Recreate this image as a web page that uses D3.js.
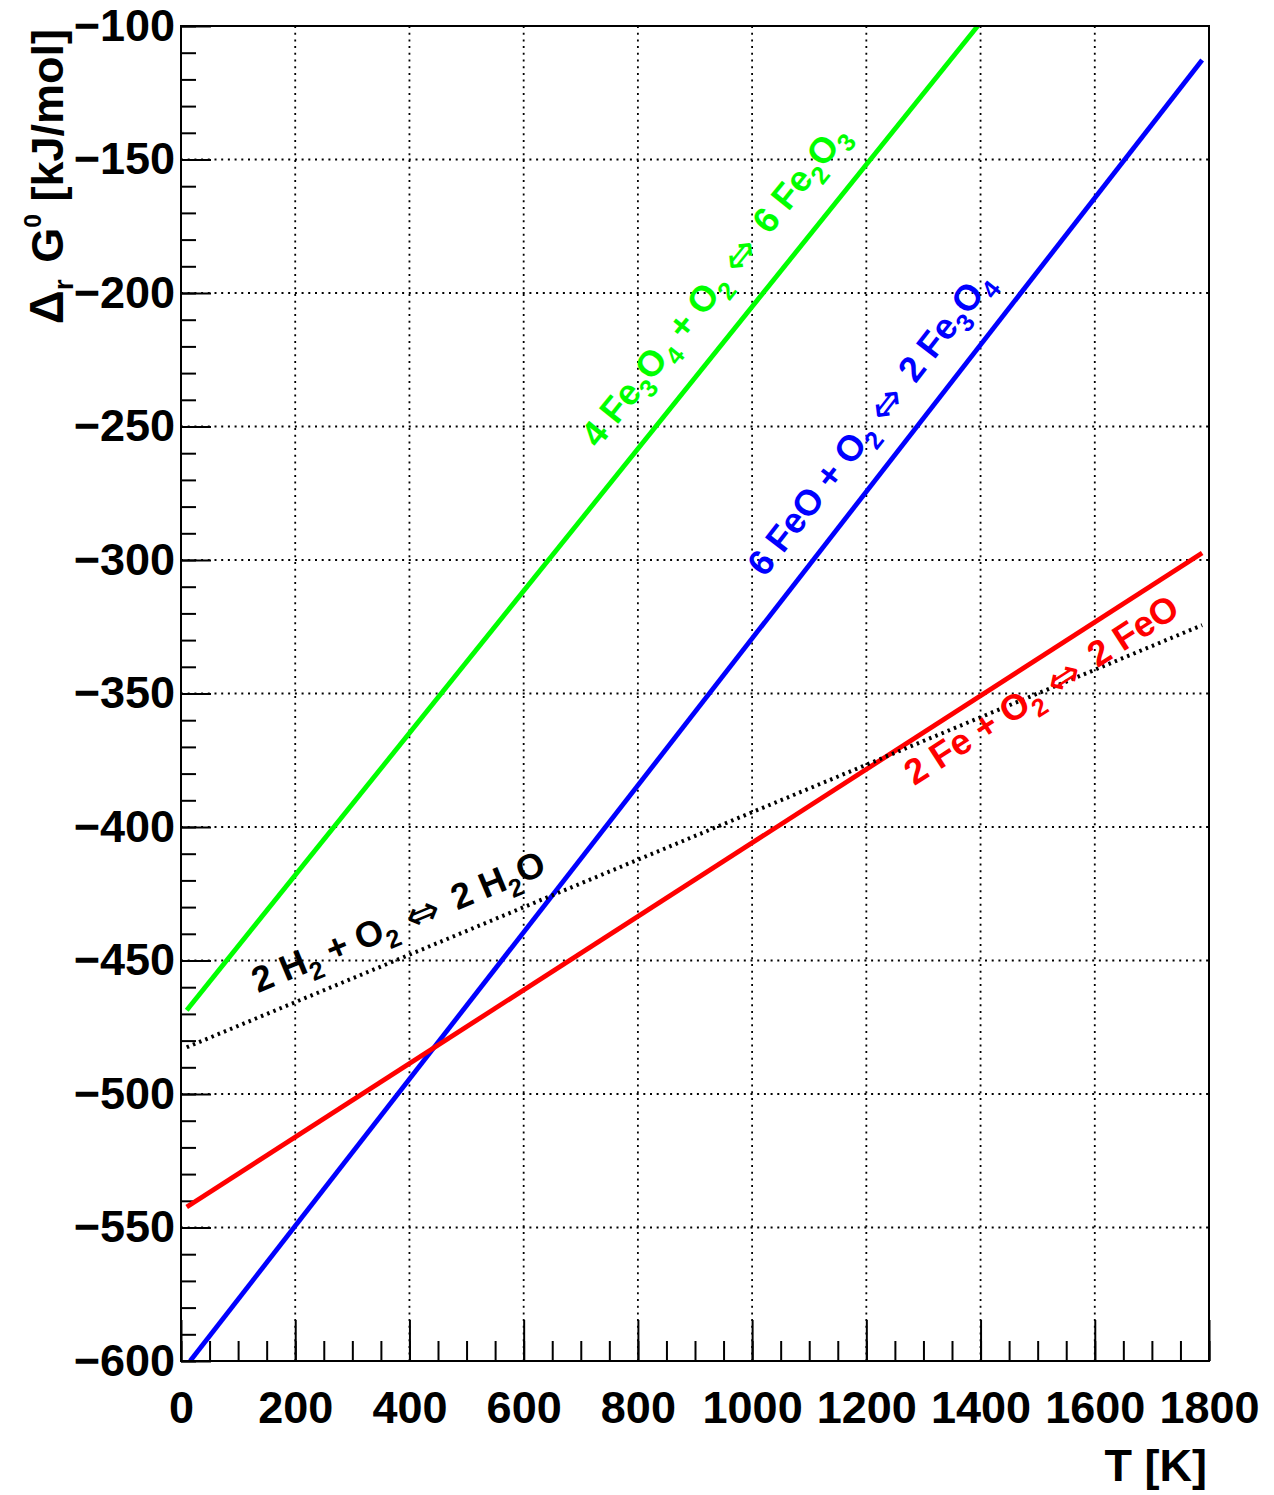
<!DOCTYPE html>
<html>
<head>
<meta charset="utf-8">
<script src="https://cdn.jsdelivr.net/npm/d3@7"></script>
<style>
  html, body { margin: 0; padding: 0; background: #fff; }
  svg { display: block; font-family: 'Liberation Sans', Arial, Helvetica, sans-serif; font-weight: bold; }
</style>
</head>
<body>
<svg id="chart" width="1274" height="1495"></svg>
<script>
// Axis ranges and tick labels
const tDomain = [0, 1800];
const gDomain = [-600, -100];
const tMajorTicks = [0, 200, 400, 600, 800, 1000, 1200, 1400, 1600, 1800];
const gMajorTicks = [-600, -550, -500, -450, -400, -350, -300, -250, -200, -150, -100];

// Series: temperature [K] and Δr G0 [kJ/mol]
const feoT = [10, 1788];
const feoG = [-542.3, -297.4];
const fe3o4T = [16, 1788];
const fe3o4G = [-600, -112.7];
const fe2o3T = [10, 1395];
const fe2o3G = [-468.6, -100];
const h2oT = [10, 1788];
const h2oG = [-482.5, -324.4];

// Reaction labels (text parts: n = normal, s = subscript, a = arrow)
const feoLabel = [['2 Fe + O', 'n'], ['2', 's'], ['\u21D4', 'a'], ['2 FeO', 'n']];
const fe3o4Label = [['6 FeO + O', 'n'], ['2', 's'], ['\u21D4', 'a'], ['2 Fe', 'n'], ['3', 's'], ['O', 'n'], ['4', 's']];
const fe2o3Label = [['4 Fe', 'n'], ['3', 's'], ['O', 'n'], ['4', 's'], [' + O', 'n'], ['2', 's'], ['\u21D4', 'a'], ['6 Fe', 'n'], ['2', 's'], ['O', 'n'], ['3', 's']];
const h2oLabel = [['2 H', 'n'], ['2', 's'], [' + O', 'n'], ['2', 's'], ['\u21D4', 'a'], ['2 H', 'n'], ['2', 's'], ['O', 'n']];
// label anchor (start of baseline) in data coordinates
const feoLabelAt = [1284, -384.7];
const fe3o4LabelAt = [1022, -306.8];
const fe2o3LabelAt = [730, -258.5];
const h2oLabelAt = [135, -462.3];

const series = [
  { T: fe2o3T, G: fe2o3G, color: '#00ff00', dotted: false, label: fe2o3Label, at: fe2o3LabelAt },
  { T: fe3o4T, G: fe3o4G, color: '#0000ff', dotted: false, label: fe3o4Label, at: fe3o4LabelAt },
  { T: feoT, G: feoG, color: '#ff0000', dotted: false, label: feoLabel, at: feoLabelAt },
  { T: h2oT, G: h2oG, color: '#000000', dotted: true, label: h2oLabel, at: h2oLabelAt },
];

const margin = { top: 26, right: 65, bottom: 134, left: 181 };
const width = 1274, height = 1495;
const innerW = width - margin.left - margin.right;
const innerH = height - margin.top - margin.bottom;
const fontSize = 45;
const labelSize = 36;

const svg = d3.select('#chart');
svg.append('rect').attr('width', width).attr('height', height).attr('fill', '#fff');
const g = svg.append('g').attr('transform', `translate(${margin.left},${margin.top})`);

const x = d3.scaleLinear().domain(tDomain).range([0, innerW]);
const y = d3.scaleLinear().domain(gDomain).range([innerH, 0]);

// Grid (dotted, at major ticks)
g.append('g')
  .selectAll('line')
  .data(tMajorTicks.slice(1, -1))
  .join('line')
  .attr('x1', (d) => x(d)).attr('x2', (d) => x(d))
  .attr('y1', 0).attr('y2', innerH)
  .attr('stroke', '#000').attr('stroke-width', 1.8).attr('stroke-dasharray', '2,4.7');
g.append('g')
  .selectAll('line')
  .data(gMajorTicks.slice(1, -1))
  .join('line')
  .attr('y1', (d) => y(d)).attr('y2', (d) => y(d))
  .attr('x1', 0).attr('x2', innerW)
  .attr('stroke', '#000').attr('stroke-width', 1.8).attr('stroke-dasharray', '2,4.7');

// Minor ticks
g.append('g')
  .attr('transform', `translate(0,${innerH})`)
  .call(d3.axisBottom(x).ticks(36).tickSize(-20).tickFormat(''))
  .call((a) => {
    a.select('.domain').remove();
    a.selectAll('.tick line').attr('stroke', '#000').attr('stroke-width', 2);
  });
g.append('g')
  .call(d3.axisLeft(y).ticks(50).tickSize(-15).tickFormat(''))
  .call((a) => {
    a.select('.domain').remove();
    a.selectAll('.tick line').attr('stroke', '#000').attr('stroke-width', 2);
  });

// Major ticks + labels
g.append('g')
  .attr('transform', `translate(0,${innerH})`)
  .call(d3.axisBottom(x).tickValues(tMajorTicks).tickSize(-41).tickPadding(30).tickFormat(d3.format('d')))
  .call((a) => {
    a.select('.domain').remove();
    a.selectAll('.tick line').attr('stroke', '#000').attr('stroke-width', 2);
    a.selectAll('.tick text')
      .attr('fill', '#000')
      .attr('font-size', fontSize)
      .attr('font-family', "'Liberation Sans', Arial, sans-serif")
      .attr('font-weight', 'bold');
  });
g.append('g')
  .call(d3.axisLeft(y).tickValues(gMajorTicks).tickSize(-30).tickPadding(6).tickFormat(d3.format('d')))
  .call((a) => {
    a.select('.domain').remove();
    a.selectAll('.tick line').attr('stroke', '#000').attr('stroke-width', 2);
    a.selectAll('.tick text')
      .attr('fill', '#000')
      .attr('font-size', fontSize)
      .attr('font-family', "'Liberation Sans', Arial, sans-serif")
      .attr('font-weight', 'bold');
  });

// Clip for data lines
svg.append('clipPath').attr('id', 'plot-clip')
  .append('rect').attr('width', innerW).attr('height', innerH);

const line = d3.line().x((p) => x(p[0])).y((p) => y(p[1]));

const plot = g.append('g').attr('clip-path', 'url(#plot-clip)');
for (const s of series) {
  const pts = s.T.map((t, i) => [t, s.G[i]]);
  plot.append('path')
    .datum(pts)
    .attr('fill', 'none')
    .attr('stroke', s.color)
    .attr('stroke-width', s.dotted ? 4 : 4.8)
    .attr('stroke-dasharray', s.dotted ? '2.5,4.2' : null)
    .attr('d', line);
}

// Reaction labels, rotated along each line
for (const s of series) {
  const n = s.T.length - 1;
  const angle = Math.atan2(y(s.G[n]) - y(s.G[0]), x(s.T[n]) - x(s.T[0])) * 180 / Math.PI;
  const text = g.append('text')
    .attr('transform', `translate(${x(s.at[0])},${y(s.at[1])}) rotate(${angle})`)
    .attr('fill', s.color)
    .attr('font-size', labelSize)
    .style('white-space', 'pre');
  let shift = 0;
  for (const [str, kind] of s.label) {
    const target = kind === 's' ? labelSize * 0.28 : kind === 'a' ? 3 : 0;
    if (kind === 'a') {
      text.append('tspan')
        .attr('dy', target - shift)
        .attr('dx', 12)
        .attr('font-size', labelSize * 1.15)
        .attr('font-family', "'DejaVu Sans', sans-serif")
        .attr('font-weight', 'normal')
        .text(str);
      text.append('tspan').attr('dx', 6).text(' ');
      shift = target;
      continue;
    }
    const ts = text.append('tspan').attr('dy', target - shift);
    shift = target;
    if (kind === 's') {
      ts.attr('font-size', labelSize * 0.7).text(str);
    } else {
      ts.text(str);
    }
  }
}

// Frame
g.append('rect')
  .attr('width', innerW).attr('height', innerH)
  .attr('fill', 'none').attr('stroke', '#000').attr('stroke-width', 2);

// Axis titles
svg.append('text')
  .attr('x', margin.left + innerW - 2)
  .attr('y', 1481)
  .attr('text-anchor', 'end')
  .attr('font-size', fontSize)
  .text('T [K]');

const yTitle = svg.append('text')
  .attr('transform', `translate(63,${margin.top + 3}) rotate(-90)`)
  .attr('text-anchor', 'end')
  .attr('font-size', fontSize)
  .style('white-space', 'pre');
yTitle.append('tspan').attr('font-size', fontSize * 1.05).text('\u0394');
yTitle.append('tspan').attr('font-size', fontSize * 0.62).attr('dy', fontSize * 0.22).text('r');
yTitle.append('tspan').attr('dy', -fontSize * 0.22).attr('dx', 4).text(' G');
yTitle.append('tspan').attr('font-size', fontSize * 0.55).attr('dy', -fontSize * 0.48).text('0');
yTitle.append('tspan').attr('dy', fontSize * 0.48).text(' [kJ/mol]');
</script>
</body>
</html>
